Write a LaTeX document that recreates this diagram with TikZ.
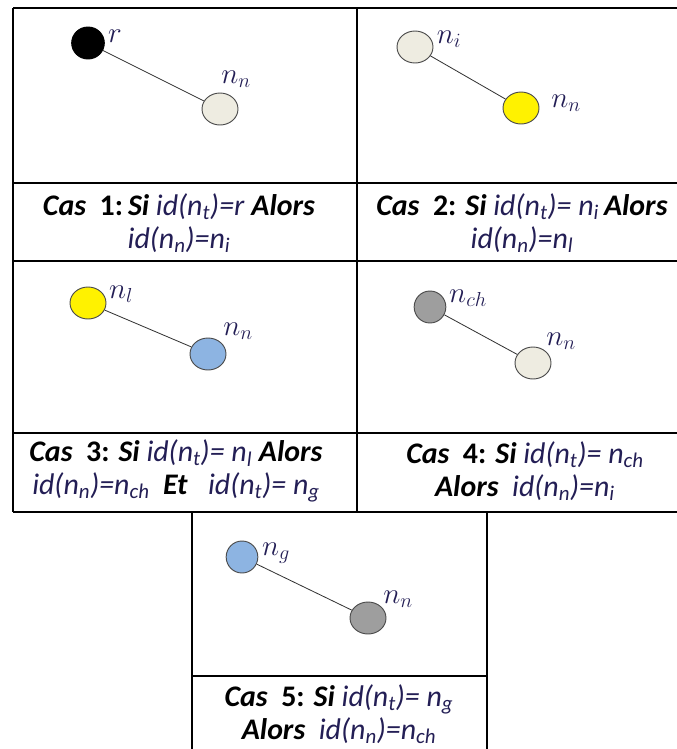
\documentclass[tikz,border=0pt]{standalone}
\usepackage{fontspec}
\setmainfont{Carlito}
\usetikzlibrary{shapes.geometric}

\definecolor{pale}{RGB}{238,236,225}
\definecolor{skyblue}{RGB}{141,180,226}
\definecolor{midgray}{RGB}{158,158,158}
\definecolor{inkblue}{RGB}{35,30,85}

\newcommand{\kw}[1]{\textbf{\textit{#1}}}
\newcommand{\iv}[1]{\textcolor{inkblue}{\textit{#1}}}
\newcommand{\nsb}[1]{n\textsubscript{#1}}

\begin{document}
\begin{tikzpicture}[x=0.03cm,y=-0.03cm,
  vertex/.style={ellipse,draw=black!70,line width=0.8pt,minimum width=1.08cm,minimum height=0.96cm,inner sep=0pt},
  link/.style={draw=black!80,line width=0.7pt},
  lbl/.style={text=inkblue,font=\fontsize{24}{24}\selectfont,inner sep=0pt},
  capbox/.style={align=center,font=\fontsize{25.5}{28}\selectfont,inner sep=0pt},
  tabline/.style={line width=1.2pt}]
  \useasboundingbox (0,0) rectangle (677,749);

  % table frame
  \draw[tabline] (13,8) -- (677,8);
  \draw[tabline] (13,8) -- (13,512);
  \draw[tabline] (357,8) -- (357,512);
  \foreach \y in {183,261,433,512} {
    \draw[tabline] (13,\y) -- (677,\y);
  }
  \draw[tabline] (192,512) -- (192,749);
  \draw[tabline] (487,512) -- (487,749);
  \draw[tabline] (192,676) -- (487,676);

  % cas 1
  \node[vertex,fill=black,draw=black,minimum width=0.98cm] (r1) at (88,43) {};
  \node[vertex,fill=pale] (nn1) at (220,109) {};
  \draw[link] (r1) -- (nn1);
  \node[lbl] (lr1) at (115,36) {$r$};
  \node[lbl] (lnn1) at (236,79) {$n_n$};

  % cas 2
  \node[vertex,fill=pale] (ni2) at (415,47) {};
  \node[vertex,fill=yellow] (nn2) at (521,108) {};
  \draw[link] (ni2) -- (nn2);
  \node[lbl] (lni2) at (449,39) {$n_i$};
  \node[lbl] (lnn2) at (566,103) {$n_n$};

  % cas 3
  \node[vertex,fill=yellow] (nl3) at (88,303) {};
  \node[vertex,fill=skyblue] (nn3) at (208,354) {};
  \draw[link] (nl3) -- (nn3);
  \node[lbl] (lnl3) at (121,294) {$n_l$};
  \node[lbl] (lnn3) at (238,331) {$n_n$};

  % cas 4
  \node[vertex,fill=midgray,minimum width=0.95cm] (nch4) at (430,307) {};
  \node[vertex,fill=pale] (nn4) at (533,363) {};
  \draw[link] (nch4) -- (nn4);
  \node[lbl] (lnch4) at (468,298) {$n_{ch}$};
  \node[lbl] (lnn4) at (561,341) {$n_n$};

  % cas 5
  \node[vertex,fill=skyblue,minimum width=0.95cm] (ng5) at (242,557) {};
  \node[vertex,fill=midgray] (nn5) at (368,618) {};
  \draw[link] (ng5) -- (nn5);
  \node[lbl] (lng5) at (276,553) {$n_g$};
  \node[lbl] (lnn5) at (398,599) {$n_n$};

  % captions
  \node[capbox] (cap1) at (179,223) {\kw{Cas}\ \ \textbf{1:}\,\kw{Si} \iv{id(\nsb{t})=r} \kw{Alors}\\ \iv{id(\nsb{n})=\nsb{i}}};
  \node[capbox] (cap2) at (522,223) {\kw{Cas}\ \ \textbf{2:} \kw{Si} \iv{id(\nsb{t})= \nsb{i}}\,\kw{Alors}\\ \iv{id(\nsb{n})=\nsb{l}}};
  \node[capbox] (cap3) at (176,471) {\kw{Cas}\ \ \textbf{3:} \kw{Si} \iv{id(\nsb{t})= \nsb{l}} \kw{Alors}\\ \iv{id(\nsb{n})=\nsb{ch}}\ \ \kw{Et}\ \ \ \iv{id(\nsb{t})= \nsb{g}}};
  \node[capbox] (cap4) at (525,471) {\kw{Cas}\ \ \textbf{4:} \kw{Si} \iv{id(\nsb{t})= \nsb{ch}}\\ \kw{Alors}\ \ \iv{id(\nsb{n})=\nsb{i}}};
  \node[capbox] (cap5) at (339,714) {\kw{Cas}\ \ \textbf{5:} \kw{Si} \iv{id(\nsb{t})= \nsb{g}}\\ \kw{Alors}\ \ \iv{id(\nsb{n})=\nsb{ch}}};
\end{tikzpicture}
\end{document}
